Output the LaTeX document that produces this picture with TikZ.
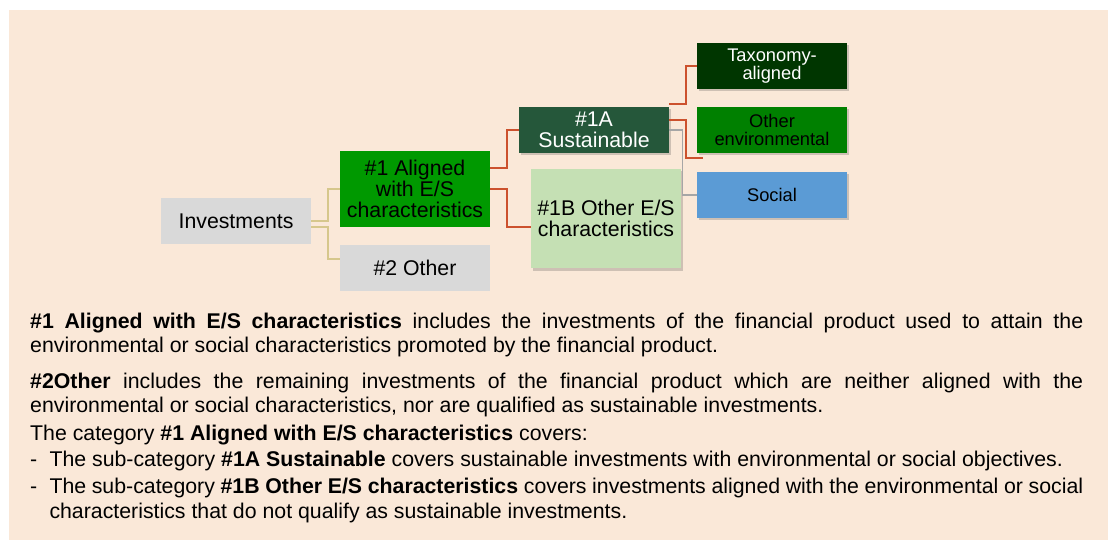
\documentclass[tikz,border=0pt]{standalone}
\usepackage{fontspec}
\setmainfont{Liberation Sans}
\usetikzlibrary{shadows}
\definecolor{bgpeach}{HTML}{FAE8D8}
\definecolor{boxgray}{HTML}{D9D9D9}
\definecolor{greenA}{HTML}{009900}
\definecolor{darkgreen}{HTML}{25573A}
\definecolor{lightgreen}{HTML}{C5E0B4}
\definecolor{taxgreen}{HTML}{003600}
\definecolor{envgreen}{HTML}{008000}
\definecolor{socblue}{HTML}{5B9BD5}
\definecolor{tanc}{HTML}{D6C78C}
\definecolor{redc}{HTML}{CC512D}
\definecolor{grayc}{HTML}{A6A6A6}
\begin{document}
\begin{tikzpicture}[x=1pt,y=-1pt,
  box/.style={rectangle, inner sep=0pt, minimum width=150pt, align=center,
    font=\fontsize{21.3}{21}\selectfont},
  smallbox/.style={box, font=\fontsize{18.3}{18.3}\selectfont},
  shad/.style={drop shadow={shadow xshift=2pt, shadow yshift=-2.5pt, opacity=0.25, fill=black!70}},
  tanline/.style={draw=tanc, line width=1.6pt},
  redline/.style={draw=redc, line width=1.6pt},
  grayline/.style={draw=grayc, line width=1.2pt},
  txt/.style={inner sep=0pt, anchor=base west, font=\fontsize{21.3}{24}\selectfont}]
\useasboundingbox (0,0) rectangle (1108,540);
\fill[white] (0,0) rectangle (1108,540);
\fill[bgpeach] (9,10) rectangle (1108,540);

% boxes
\node[box, fill=boxgray, minimum height=46pt] (inv) at (236,221) {Investments};
\node[box, fill=greenA, minimum height=76pt] (a1) at (415,189) {\#1 Aligned\\with E/S\\characteristics};
\node[box, fill=boxgray, minimum height=46pt] (o2) at (415,268) {\#2 Other};
\node[box, shad, fill=darkgreen, text=white, minimum height=46pt] (s1a) at (594,130) {\#1A\\Sustainable};
\node[box, shad, fill=lightgreen, minimum height=99pt] (b1b) at (606,218.5) {\#1B Other E/S\\characteristics};
\node[smallbox, shad, fill=taxgreen, text=white, minimum height=46pt] (tax) at (772,66) {Taxonomy-\\aligned};
\node[smallbox, shad, fill=envgreen, minimum height=46pt] (env) at (772,130) {Other\\environmental};
\node[smallbox, shad, fill=socblue, minimum height=46pt] (soc) at (772,195) {Social};

% connectors
\draw[tanline] (inv.east) -- ++(17,0) |- (a1.west);
\draw[tanline] ([yshift=-6pt]inv.east) -- ++(17,0) |- ([yshift=9pt]o2.west);
\draw[redline] ([yshift=21pt]a1.east) -- ++(17,0) |- (s1a.west);
\draw[redline] (a1.east) -- ++(17,0) |- ([yshift=-8.5pt]b1b.west);
\draw[redline] ([yshift=26pt]s1a.east) -- ++(17,0) |- (tax.west);
\draw[redline] ([yshift=10pt]s1a.east) -- ++(17,0) |- ([xshift=6pt,yshift=-28pt]env.west);
\draw[grayline] (s1a.east) -- ++(13,0) |- (soc.west);

% text
\node[txt] (l1) at (30,328.3) {\makebox[1053pt][s]{\textbf{\#1 Aligned with E/S characteristics} includes the investments of the financial product used to attain the}};
\node[txt] (l2) at (30,352.7) {environmental or social characteristics promoted by the financial product.};
\node[txt] (l3) at (30,388.3) {\makebox[1053pt][s]{\textbf{\#2Other} includes the remaining investments of the financial product which are neither aligned with the}};
\node[txt] (l4) at (30,412.7) {environmental or social characteristics, nor are qualified as sustainable investments.};
\node[txt] (l5) at (30,440) {The category \textbf{\#1 Aligned with E/S characteristics} covers:};
\node[txt] (d6) at (30,466.7) {-};
\node[txt] (l6) at (49.3,466.7) {The sub-category \textbf{\#1A Sustainable} covers sustainable investments with environmental or social objectives.};
\node[txt] (d7) at (30,493.3) {-};
\node[txt] (l7) at (49.3,493.3) {\makebox[1033.7pt][s]{The sub-category \textbf{\#1B Other E/S characteristics} covers investments aligned with the environmental or social}};
\node[txt] (l8) at (49.3,518.3) {characteristics that do not qualify as sustainable investments.};
\end{tikzpicture}
\end{document}
